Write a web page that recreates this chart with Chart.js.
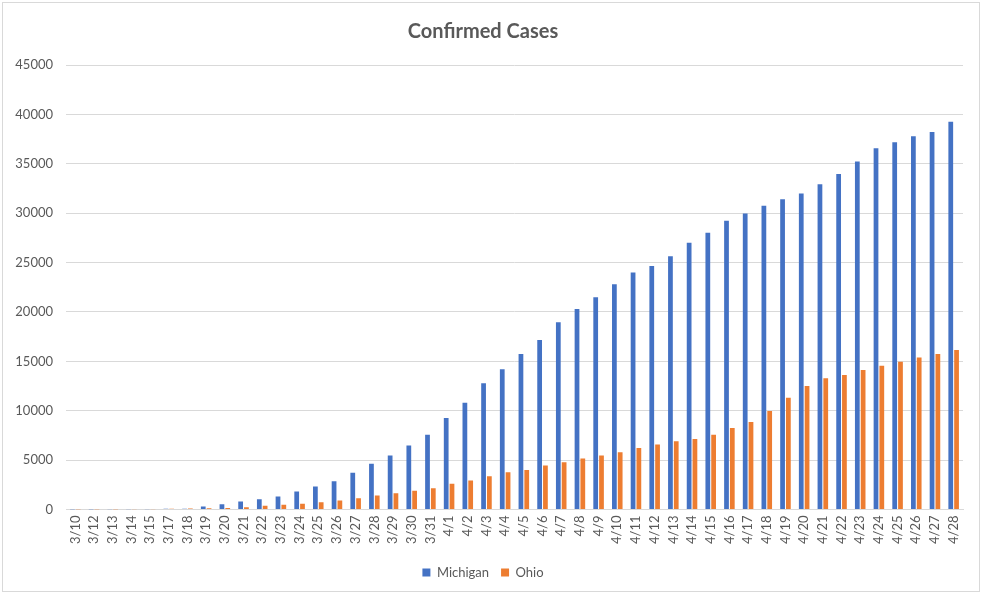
<!DOCTYPE html>
<html lang="en">
<head>
<meta charset="UTF-8">
<title>Confirmed Cases</title>
<script src="https://cdn.jsdelivr.net/npm/chart.js"></script>
<style>
  html, body { margin: 0; padding: 0; background: #fff; }
  #frame { position: absolute; left: 2px; top: 2px; width: 976px; height: 588px; border: 1px solid #d9d9d9; }
</style>
</head>
<body>
<div id="frame"><canvas id="casesChart" width="976" height="588"></canvas></div>
<script>
// dates on the x axis
const dates = ['3/10','3/12','3/13','3/14','3/15','3/17','3/18','3/19','3/20','3/21','3/22','3/23','3/24','3/25','3/26','3/27','3/28','3/29','3/30','3/31',
  '4/1','4/2','4/3','4/4','4/5','4/6','4/7','4/8','4/9','4/10','4/11','4/12','4/13','4/14','4/15','4/16','4/17','4/18','4/19','4/20',
  '4/21','4/22','4/23','4/24','4/25','4/26','4/27','4/28'];

// confirmed cases
const michigan = [2, 2, 16, 25, 33, 65, 80, 300, 540, 810, 1045, 1315, 1820, 2325, 2865, 3710, 4620, 5460, 6470, 7580,
  9270, 10820, 12770, 14190, 15740, 17160, 18950, 20300, 21500, 22800, 24000, 24650, 25650, 27000, 28010, 29220, 29960, 30740, 31410, 31980,
  32930, 33970, 35220, 36570, 37180, 37780, 38220, 39260];
const ohio = [3, 5, 13, 26, 37, 67, 100, 120, 140, 230, 370, 470, 575, 740, 910, 1145, 1415, 1650, 1890, 2155,
  2595, 2930, 3370, 3775, 4010, 4450, 4785, 5155, 5460, 5795, 6235, 6570, 6905, 7145, 7580, 8255, 8865, 9980, 11325, 12505,
  13280, 13620, 14125, 14560, 14965, 15400, 15740, 16150];

const yTicks = { min: 0, max: 45000, step: 5000 };

const grey = '#595959';
Chart.defaults.font.family = 'Lato, "Liberation Sans", sans-serif';
Chart.defaults.color = grey;

new Chart(document.getElementById('casesChart'), {
  type: 'bar',
  data: {
    labels: dates,
    datasets: [
      { label: 'Michigan', data: michigan, backgroundColor: '#4472C4', categoryPercentage: 0.62, barPercentage: 0.82 },
      { label: 'Ohio', data: ohio, backgroundColor: '#ED7D31', categoryPercentage: 0.62, barPercentage: 0.82 }
    ]
  },
  options: {
    responsive: false,
    animation: false,
    layout: { padding: { left: 0, right: 16, top: 0, bottom: 2 } },
    plugins: {
      title: {
        display: true,
        text: 'Confirmed Cases',
        color: grey,
        font: { size: 20, weight: 'bold' },
        padding: { top: 17, bottom: 21 }
      },
      legend: {
        position: 'bottom',
        labels: { boxWidth: 8, boxHeight: 8, padding: 12, font: { size: 13 }, color: grey }
      },
      tooltip: { enabled: false }
    },
    scales: {
      x: {
        grid: { display: false, drawTicks: false },
        border: { color: '#d9d9d9' },
        ticks: { autoSkip: false, maxRotation: 90, minRotation: 90, padding: 6, font: { size: 13 } },
        afterFit: function (scale) { scale.height += 4; }
      },
      y: {
        min: yTicks.min,
        max: yTicks.max,
        grid: { color: '#d9d9d9', drawTicks: false },
        border: { display: false },
        ticks: { stepSize: yTicks.step, padding: 13, font: { size: 13 }, callback: v => String(v) },
        afterFit: function (scale) { scale.width = 63; }
      }
    }
  }
});
</script>
</body>
</html>
